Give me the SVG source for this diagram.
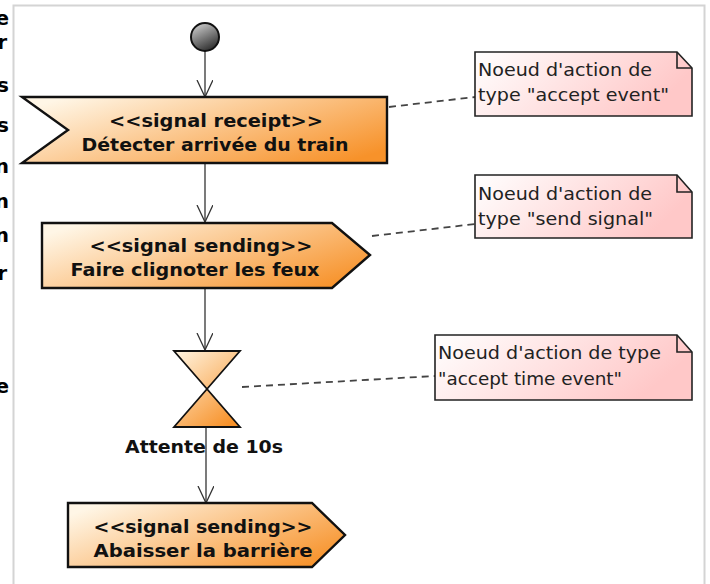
<svg xmlns="http://www.w3.org/2000/svg" width="710" height="584" viewBox="0 0 710 584">
<defs>
<linearGradient id="gAct" x1="0" y1="0.2" x2="1" y2="0.8">
<stop offset="0" stop-color="#fff6e6"/>
<stop offset="1" stop-color="#f7922a"/>
</linearGradient>
<linearGradient id="gHour" gradientUnits="userSpaceOnUse" x1="180" y1="350" x2="235" y2="420">
<stop offset="0" stop-color="#fff2dc"/>
<stop offset="1" stop-color="#f7922a"/>
</linearGradient>
<linearGradient id="gNote" x1="0" y1="0" x2="1" y2="0.3">
<stop offset="0" stop-color="#ffffff"/>
<stop offset="1" stop-color="#ffc8c8"/>
</linearGradient>
<linearGradient id="gStart" x1="0.2" y1="0" x2="0.7" y2="1">
<stop offset="0" stop-color="#d0d0d0"/>
<stop offset="1" stop-color="#2a2a2a"/>
</linearGradient>
<marker id="arr" viewBox="0 0 18 18" refX="17" refY="8" markerWidth="18" markerHeight="18" markerUnits="userSpaceOnUse" orient="auto">
<path d="M0,0 L17,8 L0,16" fill="none" stroke="#333" stroke-width="1.3"/>
</marker>
</defs>
<style>
.act{fill:url(#gAct);stroke:#111;stroke-width:2.4;stroke-linejoin:miter}
.note{fill:url(#gNote);stroke:#222;stroke-width:1.6}
.fold{fill:none;stroke:#222;stroke-width:1.6}
.flow{fill:none;stroke:#333;stroke-width:1.3}
.dash{fill:none;stroke:#444;stroke-width:1.8;stroke-dasharray:7,5}
.bt{font-family:"DejaVu Sans",sans-serif;font-weight:bold;font-size:18.5px;fill:#111;text-anchor:middle}
.nt{font-family:"DejaVu Sans",sans-serif;font-size:18.5px;fill:#222}
.frag{font-family:"DejaVu Sans",sans-serif;font-weight:bold;font-size:20px;fill:#000;text-anchor:end}
</style>
<rect x="0" y="0" width="710" height="584" fill="#fff"/>
<g id="page-fragments">
<text class="frag" x="9" y="25">e</text>
<text class="frag" x="7" y="49">r</text>
<text class="frag" x="9" y="92">s</text>
<text class="frag" x="9" y="132">s</text>
<text class="frag" x="9" y="173">n</text>
<text class="frag" x="9" y="208">n</text>
<text class="frag" x="9" y="242">n</text>
<text class="frag" x="7" y="280">r</text>
<text class="frag" x="9" y="393">e</text>
</g>
<rect id="frame" x="13.5" y="5.5" width="691" height="600" fill="#fff" stroke="#d4d4d4" stroke-width="2"/>
<g id="connectors">
<line class="flow" x1="205" y1="51" x2="205" y2="97" marker-end="url(#arr)"/>
<line class="flow" x1="205" y1="163" x2="205" y2="222" marker-end="url(#arr)"/>
<line class="flow" x1="205" y1="288" x2="205" y2="350" marker-end="url(#arr)"/>
<line class="flow" x1="206" y1="427" x2="206" y2="503" marker-end="url(#arr)"/>
<line class="dash" x1="389" y1="107" x2="475" y2="97"/>
<line class="dash" x1="372" y1="236" x2="475" y2="224"/>
<line class="dash" x1="242" y1="387" x2="435" y2="376"/>
</g>
<g id="start">
<circle cx="205" cy="37" r="14" fill="url(#gStart)" stroke="#111" stroke-width="2"/>
</g>
<g id="detecter">
<path class="act" d="M22,97 L387,97 L387,163 L22,163 L68,130 Z"/>
<text class="bt" x="216" y="127" textLength="214" lengthAdjust="spacingAndGlyphs">&lt;&lt;signal receipt&gt;&gt;</text>
<text class="bt" x="215" y="151" textLength="267" lengthAdjust="spacingAndGlyphs">Détecter arrivée du train</text>
</g>
<g id="clignoter">
<path class="act" d="M42,223 L332,223 L370,255 L332,288 L42,288 Z"/>
<text class="bt" x="201" y="252" textLength="223" lengthAdjust="spacingAndGlyphs">&lt;&lt;signal sending&gt;&gt;</text>
<text class="bt" x="195" y="276" textLength="249" lengthAdjust="spacingAndGlyphs">Faire clignoter les feux</text>
</g>
<g id="attente">
<path d="M174,351 L240,351 L207,389 Z" fill="url(#gHour)" stroke="#111" stroke-width="1.8" stroke-linejoin="miter"/>
<path d="M207,389 L240,427 L174,427 Z" fill="url(#gHour)" stroke="#111" stroke-width="1.8" stroke-linejoin="miter"/>
<text class="bt" x="204" y="453" textLength="158" lengthAdjust="spacingAndGlyphs">Attente de 10s</text>
</g>
<g id="abaisser">
<path class="act" d="M68,503 L312,503 L345,535 L312,567 L68,567 Z"/>
<text class="bt" x="203" y="533" textLength="219" lengthAdjust="spacingAndGlyphs">&lt;&lt;signal sending&gt;&gt;</text>
<text class="bt" x="203" y="557" textLength="219" lengthAdjust="spacingAndGlyphs">Abaisser la barrière</text>
</g>
<g id="note1">
<path class="note" d="M475,52 L677,52 L692,68 L692,116 L475,116 Z"/>
<path class="fold" d="M677,52 L677,68 L692,68"/>
<text class="nt" x="478" y="76" textLength="174" lengthAdjust="spacingAndGlyphs">Noeud d'action de</text>
<text class="nt" x="478" y="101" textLength="191" lengthAdjust="spacingAndGlyphs">type "accept event"</text>
</g>
<g id="note2">
<path class="note" d="M475,175 L677,175 L692,192 L692,238 L475,238 Z"/>
<path class="fold" d="M677,175 L677,192 L692,192"/>
<text class="nt" x="478" y="200" textLength="174" lengthAdjust="spacingAndGlyphs">Noeud d'action de</text>
<text class="nt" x="478" y="225" textLength="175" lengthAdjust="spacingAndGlyphs">type "send signal"</text>
</g>
<g id="note3">
<path class="note" d="M435,335 L677,335 L692,352 L692,400 L435,400 Z"/>
<path class="fold" d="M677,335 L677,352 L692,352"/>
<text class="nt" x="438" y="359" textLength="223" lengthAdjust="spacingAndGlyphs">Noeud d'action de type</text>
<text class="nt" x="438" y="385" textLength="184" lengthAdjust="spacingAndGlyphs">"accept time event"</text>
</g>
</svg>
